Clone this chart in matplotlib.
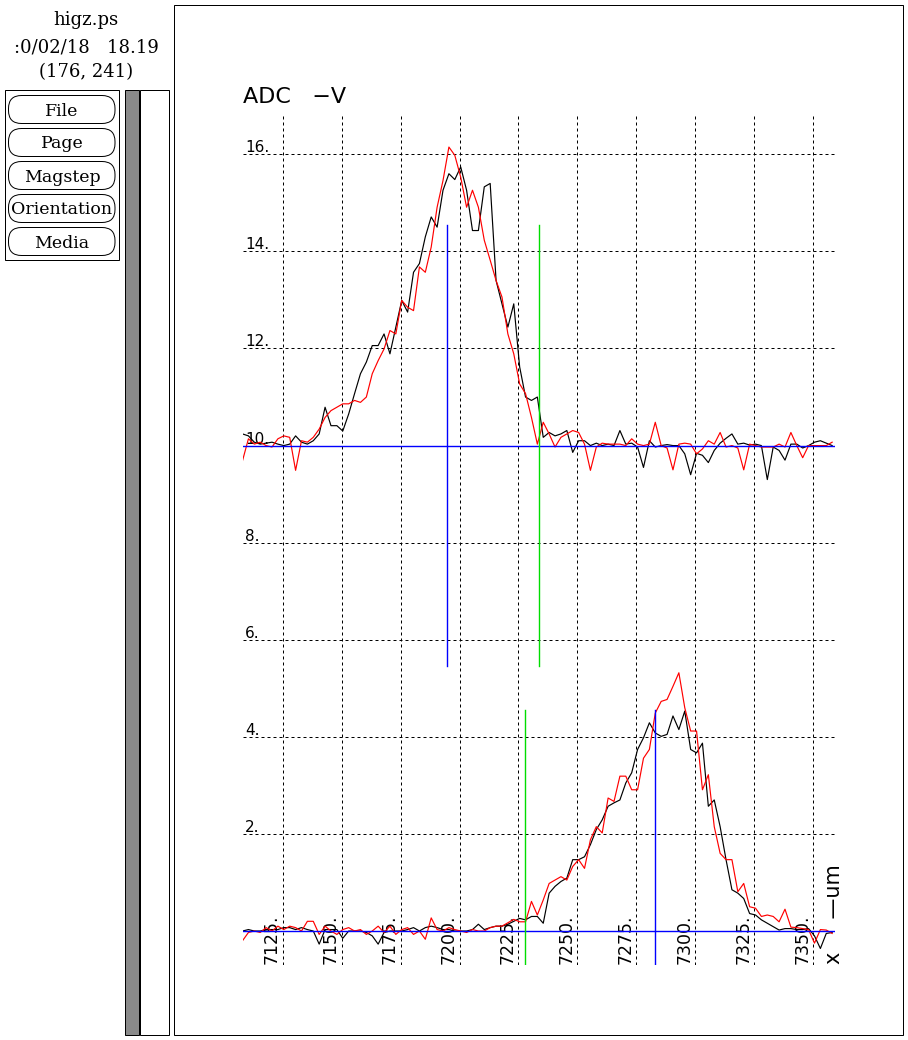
import numpy as np
import matplotlib
matplotlib.use("Agg")
import matplotlib.pyplot as plt
from matplotlib.patches import Rectangle, FancyBboxPatch

W, H = 908, 1040

# ---------------- data ----------------
x_um = [7108, 7110.5, 7113, 7115.5, 7118, 7120.5, 7123, 7125.5, 7128, 7130.5,
        7133, 7135.5, 7138, 7140.5, 7143, 7145.5, 7148, 7150.5, 7153, 7155.5,
        7158, 7160.5, 7163, 7165.5, 7168, 7170.5, 7173, 7175.5, 7178, 7180.5,
        7183, 7185.5, 7188, 7190.5, 7193, 7195.5, 7198, 7200.5, 7203, 7205.5,
        7208, 7210.5, 7213, 7215.5, 7218, 7220.5, 7223, 7225.5, 7228, 7230.5,
        7233, 7235.5, 7238, 7240.5, 7243, 7245.5, 7248, 7250.5, 7253, 7255.5,
        7258, 7260.5, 7263, 7265.5, 7268, 7270.5, 7273, 7275.5, 7278, 7280.5,
        7283, 7285.5, 7288, 7290.5, 7293, 7295.5, 7298, 7300.5, 7303, 7305.5,
        7308, 7310.5, 7313, 7315.5, 7318, 7320.5, 7323, 7325.5, 7328, 7330.5,
        7333, 7335.5, 7338, 7340.5, 7343, 7345.5, 7348, 7350.5, 7353, 7355.5,
        7358]

top_black = [10.24, 10.20, 10.07, 10.03, 10.05, 10.07, 10.03, 10.00, 10.03, 10.20,
             10.07, 10.03, 10.10, 10.24, 10.79, 10.41, 10.41, 10.30, 10.65, 11.07,
             11.48, 11.72, 12.06, 12.06, 12.30, 11.89, 12.44, 12.99, 12.75, 13.57,
             13.75, 14.30, 14.71, 14.50, 15.26, 15.60, 15.48, 15.74, 15.26, 14.43,
             14.43, 15.33, 15.40, 13.40, 12.92, 12.44, 12.92, 11.62, 11.00, 10.93,
             11.00, 10.17, 10.27, 10.20, 10.24, 10.31, 9.86, 10.10, 10.10, 10.00,
             10.05, 10.00, 10.03, 10.00, 10.31, 10.03, 10.05, 9.97, 9.55, 10.10,
             9.97, 10.00, 10.02, 10.00, 10.00, 9.83, 9.40, 9.84, 9.80, 9.65,
             9.90, 10.05, 10.15, 10.24, 10.03, 10.05, 10.01, 10.03, 10.00, 9.30,
             9.97, 9.90, 9.70, 10.03, 10.03, 9.95, 10.00, 10.07, 10.10, 10.05,
             10.00]

top_red = [9.69, 10.14, 10.03, 10.07, 10.00, 9.97, 10.14, 10.20, 10.17, 9.49,
           10.10, 10.07, 10.17, 10.34, 10.58, 10.72, 10.79, 10.86, 10.86, 10.93,
           10.89, 11.00, 11.48, 11.75, 11.99, 12.37, 12.30, 12.99, 12.85, 12.78,
           13.68, 13.57, 14.09, 14.91, 15.46, 16.15, 15.98, 15.53, 14.91, 15.26,
           14.91, 14.23, 13.82, 13.40, 13.06, 12.30, 11.89, 11.27, 11.07, 10.58,
           10.03, 10.48, 10.24, 9.97, 10.17, 10.24, 10.31, 10.27, 10.03, 9.49,
           9.97, 10.05, 10.03, 10.03, 10.03, 10.00, 10.14, 10.03, 10.00, 10.03,
           10.48, 10.00, 9.95, 9.50, 10.03, 10.05, 10.03, 9.83, 9.93, 10.10,
           10.03, 10.27, 9.97, 10.00, 9.95, 9.50, 10.03, 10.00, 9.97, 9.97,
           9.97, 10.03, 9.97, 10.27, 10.00, 9.75, 10.00, 10.00, 10.00, 10.00,
           10.07]

bottom_black = [0.00, 0.03, 0.00, 0.00, 0.03, 0.03, 0.03, 0.07, 0.07, 0.03,
                0.07, 0.03, 0.00, -0.27, 0.03, 0.03, 0.03, -0.15, 0.00, 0.00,
                0.00, -0.03, -0.10, -0.27, -0.03, 0.00, 0.00, 0.00, 0.03, 0.07,
                0.00, 0.07, 0.10, 0.07, 0.03, 0.03, 0.00, 0.00, 0.00, 0.03,
                0.14, 0.03, 0.07, 0.10, 0.10, 0.14, 0.20, 0.26, 0.23, 0.30,
                0.30, 0.16, 0.78, 0.92, 1.02, 1.09, 1.47, 1.47, 1.53, 1.78,
                2.09, 2.29, 2.57, 2.64, 2.70, 3.05, 3.26, 3.74, 3.98, 4.29,
                4.08, 4.01, 4.05, 4.43, 4.15, 4.53, 3.74, 3.67, 3.87, 2.57,
                2.70, 2.15, 1.47, 0.85, 0.78, 0.67, 0.36, 0.33, 0.23, 0.16,
                0.09, 0.02, 0.05, 0.05, 0.03, 0.03, 0.05, -0.10, -0.36, -0.05,
                -0.03]

bottom_red = [-0.20, -0.03, 0.00, -0.03, 0.07, 0.00, 0.10, 0.03, 0.10, 0.07,
              0.00, 0.20, 0.20, -0.07, 0.10, 0.00, -0.07, 0.03, 0.07, 0.00,
              0.03, -0.07, 0.00, 0.10, -0.03, 0.10, -0.07, 0.03, 0.07, -0.07,
              0.00, -0.17, 0.27, 0.03, 0.00, 0.07, 0.03, 0.00, -0.03, 0.03,
              0.00, 0.00, 0.07, 0.10, 0.10, 0.17, 0.24, 0.19, 0.19, 0.61,
              0.33, 0.64, 0.98, 1.05, 1.12, 1.05, 1.33, 1.47, 1.29, 1.88,
              2.15, 2.02, 2.74, 2.67, 3.19, 3.19, 2.91, 2.91, 3.56, 3.74,
              4.49, 4.73, 4.77, 5.04, 5.32, 4.60, 4.12, 4.12, 2.91, 3.22,
              2.15, 1.60, 1.47, 1.47, 0.81, 0.98, 0.50, 0.47, 0.30, 0.33,
              0.30, 0.19, 0.45, 0.08, 0.07, 0.05, 0.03, -0.25, 0.03, 0.02,
              -0.05]

x_ticks = [7125, 7150, 7175, 7200, 7225, 7250, 7275, 7300, 7325, 7350]
x_tick_labels = ["7125.", "7150.", "7175.", "7200.", "7225.", "7250.",
                 "7275.", "7300.", "7325.", "7350."]
y_grid = [0, 2, 4, 6, 8, 10, 12, 14, 16]
y_ticks = [2, 4, 6, 8, 10, 12, 14, 16]
y_tick_labels = ["2.", "4.", "6.", "8.", "10.", "12.", "14.", "16."]

baselines = [10.0, 0.0]
blue_marker_x = [7194.7, 7282.9]
green_marker_x = [7233.9, 7227.7]
marker_lo = [5.45, -4.55]
marker_hi = [14.55, 4.55]

y_title = "ADC   \u2212V"
x_title = "x     \u2014um"
header_lines = ["higz.ps", ":0/02/18   18.19", "(176, 241)"]
buttons = ["File", "Page", "Magstep", "Orientation", "Media"]

# ---------------- figure ----------------
fig = plt.figure(figsize=(W / 100, H / 100), dpi=100)
fig.patch.set_facecolor("white")

ov = fig.add_axes([0, 0, 1, 1])
ov.set_xlim(0, W)
ov.set_ylim(H, 0)
ov.axis("off")

px = 72 / 100  # one pixel in points

# page frame
ov.add_patch(Rectangle((173.5, 4.5), 729, 1030.5, fill=False, ec="black", lw=px))
# left button panel
ov.add_patch(Rectangle((4.5, 89.5), 114.5, 170, fill=False, ec="black", lw=px))
for i, name in enumerate(buttons):
    top = 95 + 33 * i
    ov.add_patch(FancyBboxPatch((8.5, top + 0.5), 106.5, 28,
                                boxstyle="round,pad=0,rounding_size=13",
                                fill=False, ec="black", lw=px))
    ov.text(62, top + 20.5, name, ha="center", va="baseline",
            fontsize=12.5, family="DejaVu Serif")

for txt, yb in zip(header_lines, [25, 52, 77]):
    ov.text(86, yb, txt, ha="center", va="baseline", fontsize=13,
            family="DejaVu Serif")

# stippled scrollbar (50% stipple shown as mid grey)
ov.add_patch(Rectangle((124.5, 89.5), 14.5, 945.5, fc="#8a8a8a", ec="black", lw=px))
ov.add_patch(Rectangle((139.5, 89.5), 29, 945.5, fill=False, ec="black", lw=px))

# titles
ov.text(243, 102.7, y_title, ha="left", va="baseline", fontsize=16,
        family="DejaVu Sans")
ov.text(834.5, 964, x_title, ha="center", va="bottom", rotation=90,
        fontsize=15, family="DejaVu Sans")

# ---------------- plot area ----------------
ax = fig.add_axes([243 / W, 1 - 965 / H, (835 - 243) / W, (965 - 115) / H])
ax.set_xlim(7108.2, 7359.2)
ax.set_ylim(-0.70, 16.81)
ax.axis("off")

for xv in x_ticks:
    ax.axvline(xv, color="black", lw=px, ls=(0, (3, 3)), zorder=1)
for yv in y_grid:
    ax.axhline(yv, color="black", lw=px, ls=(0, (3, 3)), zorder=1)

for yv, lab in zip(y_ticks, y_tick_labels):
    ax.annotate(lab, xy=(0, yv), xycoords=("axes fraction", "data"),
                xytext=(2, 2), textcoords="offset pixels",
                ha="left", va="baseline", fontsize=11, zorder=0)
for xv, lab in zip(x_ticks, x_tick_labels):
    ax.annotate(lab, xy=(xv, 0), xycoords=("data", "axes fraction"),
                xytext=(-2, 1), textcoords="offset pixels", rotation=90,
                ha="right", va="bottom", fontsize=12.5, zorder=0)

ax.plot(x_um, top_black, color="black", lw=0.85, zorder=3)
ax.plot(x_um, bottom_black, color="black", lw=0.85, zorder=3)
ax.plot(x_um, top_red, color="red", lw=0.85, zorder=4)
ax.plot(x_um, bottom_red, color="red", lw=0.85, zorder=4)

for b in baselines:
    ax.axhline(b, color="#0000ff", lw=1.0, zorder=5)
for xb, lo, hi in zip(blue_marker_x, marker_lo, marker_hi):
    ax.plot([xb, xb], [lo, hi], color="#0000ff", lw=1.0, zorder=5)
for xg, lo, hi in zip(green_marker_x, marker_lo, marker_hi):
    ax.plot([xg, xg], [lo, hi], color="#00dd00", lw=1.0, zorder=5)

fig.savefig("out.png", dpi=100)
